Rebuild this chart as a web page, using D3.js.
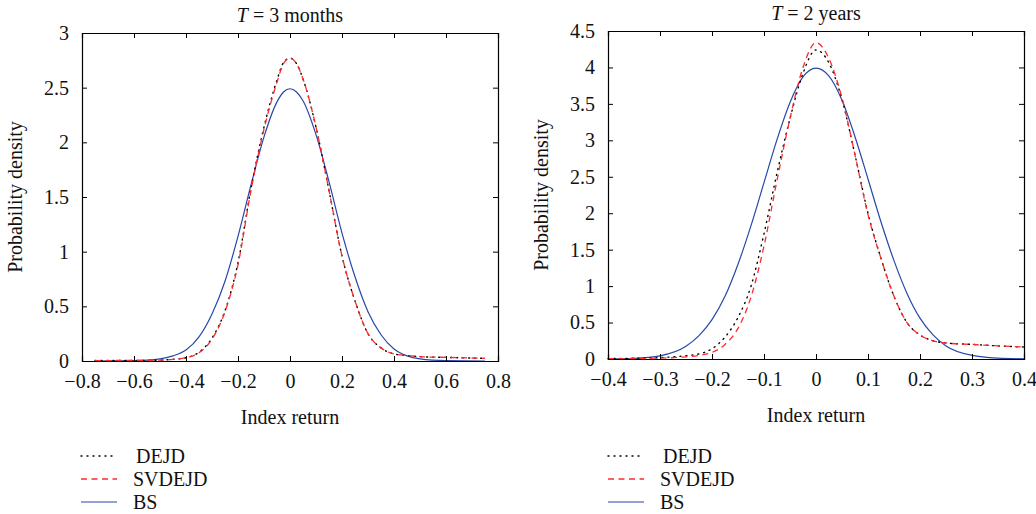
<!DOCTYPE html>
<html>
<head>
<meta charset="utf-8">
<script src="https://cdn.jsdelivr.net/npm/d3@7"></script>
<style>
  body { margin: 0; background: #fff; }
  svg text { font-family: "Liberation Serif", "DejaVu Serif", serif; fill: #111; }
</style>
</head>
<body>
<div id="chart"></div>
<script>
// ---- data ----
// left panel: T = 3 months
let xShort = [-0.75, -0.6, -0.5, -0.45, -0.4, -0.35, -0.3, -0.25, -0.2, -0.15, -0.1, -0.05, -0.025, 0,
              0.025, 0.05, 0.1, 0.15, 0.2, 0.25, 0.3, 0.35, 0.4, 0.45, 0.5, 0.6, 0.75]
let dejdShort = [0.004, 0.005, 0.008, 0.015, 0.03, 0.08, 0.21, 0.46, 0.9, 1.58, 2.14, 2.57, 2.73, 2.77,
                 2.72, 2.58, 2.14, 1.56, 0.96, 0.55, 0.25, 0.12, 0.065, 0.05, 0.04, 0.033, 0.025]
let svdejdShort = [0.004, 0.005, 0.008, 0.015, 0.03, 0.075, 0.2, 0.45, 0.88, 1.56, 2.12, 2.55, 2.72, 2.77,
                   2.72, 2.58, 2.14, 1.56, 0.96, 0.55, 0.25, 0.12, 0.065, 0.05, 0.04, 0.033, 0.025]
let bsShort = [0.0, 0.003, 0.019, 0.047, 0.1, 0.22, 0.43, 0.73, 1.14, 1.61, 2.05, 2.37, 2.46, 2.49,
               2.46, 2.38, 2.07, 1.64, 1.17, 0.77, 0.45, 0.24, 0.11, 0.047, 0.019, 0.003, 0.0]

// right panel: T = 2 years
let xLong = [-0.4, -0.35, -0.3, -0.25, -0.225, -0.2, -0.175, -0.15, -0.125, -0.1, -0.075, -0.05, -0.025, 0,
             0.025, 0.05, 0.075, 0.1, 0.125, 0.15, 0.175, 0.2, 0.225, 0.25, 0.3, 0.35, 0.4]
let dejdLong = [0.005, 0.01, 0.02, 0.045, 0.07, 0.14, 0.3, 0.57, 1.0, 1.72, 2.55, 3.3, 3.92, 4.24,
                4.06, 3.56, 2.8, 2.0, 1.38, 0.86, 0.5, 0.33, 0.25, 0.22, 0.2, 0.18, 0.165]
let svdejdLong = [0.004, 0.007, 0.012, 0.03, 0.05, 0.09, 0.2, 0.42, 0.85, 1.55, 2.45, 3.3, 4.0, 4.34,
                  4.12, 3.58, 2.8, 1.98, 1.38, 0.86, 0.5, 0.33, 0.25, 0.22, 0.2, 0.18, 0.165]
let bsLong = [0.001, 0.009, 0.044, 0.175, 0.32, 0.54, 0.86, 1.3, 1.83, 2.42, 3.01, 3.52, 3.87, 3.99,
              3.88, 3.55, 3.05, 2.47, 1.88, 1.35, 0.9, 0.56, 0.33, 0.18, 0.05, 0.012, 0.002]

let xTicksShort = [-0.8, -0.6, -0.4, -0.2, 0, 0.2, 0.4, 0.6, 0.8]
let xTicksLong = [-0.4, -0.3, -0.2, -0.1, 0, 0.1, 0.2, 0.3, 0.4]
let yTicksShort = [0, 0.5, 1, 1.5, 2, 2.5, 3]
let yTicksLong = [0, 0.5, 1, 1.5, 2, 2.5, 3, 3.5, 4, 4.5]

let seriesNames = ['DEJD', 'SVDEJD', 'BS']
let seriesColors = ['#000000', '#ff2a2a', '#2747a8']
let seriesDash = ['1,5', '6,4.5', null]
let seriesWidth = [1.4, 1.3, 1.2]

let width = 1036
let height = 514
let fontSize = '20px'

let svg = d3.select('#chart').append('svg')
    .attr('width', width)
    .attr('height', height)
    .style('background', '#fff')

// minus sign like the original
function fmt(v) {
    let s = String(Math.round(v * 10) / 10)
    return s.replace('-', '\u2212')
}

function draw_panel(opt) {
    let x = d3.scaleLinear().domain(opt.xDomain).range([opt.left, opt.right])
    let y = d3.scaleLinear().domain(opt.yDomain).range([opt.bottom, opt.top])
    let g = svg.append('g')

    // curves
    let line = d3.line()
        .x(d => x(d[0]))
        .y(d => y(d[1]))
        .curve(d3.curveMonotoneX)

    let order = [2, 0, 1] // BS below, red dashes on top of the dots
    order.forEach(i => {
        let pts = opt.xs.map((v, k) => [v, opt.ys[i][k]])
        g.append('path')
            .datum(pts)
            .attr('d', line)
            .attr('fill', 'none')
            .attr('stroke', seriesColors[i])
            .attr('stroke-width', seriesWidth[i])
            .attr('stroke-dasharray', seriesDash[i])
            .attr('stroke-linecap', i === 0 ? 'round' : 'butt')
    })

    // axes, ticks inward on all four sides
    let tickLen = -5
    g.append('g').attr('transform', `translate(0,${opt.bottom})`)
        .call(d3.axisBottom(x).tickValues(opt.xTicks).tickSize(tickLen).tickPadding(13).tickFormat(fmt))
    g.append('g').attr('transform', `translate(0,${opt.top})`)
        .call(d3.axisTop(x).tickValues(opt.xTicks).tickSize(tickLen).tickFormat(''))
    g.append('g').attr('transform', `translate(${opt.left},0)`)
        .call(d3.axisLeft(y).tickValues(opt.yTicks).tickSize(tickLen).tickPadding(13).tickFormat(fmt))
    g.append('g').attr('transform', `translate(${opt.right},0)`)
        .call(d3.axisRight(y).tickValues(opt.yTicks).tickSize(tickLen).tickFormat(''))

    g.selectAll('.domain').attr('stroke', '#000').attr('stroke-width', 1.2)
    g.selectAll('.tick line').attr('stroke', '#000').attr('stroke-width', 1)
    g.selectAll('.tick text')
        .style('font-family', '"Liberation Serif", serif')
        .style('font-size', fontSize)
        .attr('fill', '#111')

    // title
    let cx = (opt.left + opt.right) / 2
    let title = g.append('text')
        .attr('x', cx)
        .attr('y', opt.top - 11)
        .attr('text-anchor', 'middle')
        .style('font-size', fontSize)
    title.append('tspan').style('font-style', 'italic').text('T')
    title.append('tspan').text(' = ' + opt.title)

    g.append('text')
        .attr('x', cx)
        .attr('y', opt.bottom + 63)
        .attr('text-anchor', 'middle')
        .style('font-size', fontSize)
        .text('Index return')

    g.append('text')
        .attr('transform', `translate(${opt.left - 60},${(opt.top + opt.bottom) / 2}) rotate(-90)`)
        .attr('text-anchor', 'middle')
        .style('font-size', fontSize)
        .text('Probability density')

    // legend under the panel
    seriesNames.forEach((name, i) => {
        let ly = opt.legendY + i * 23
        g.append('line')
            .attr('x1', opt.legendX).attr('x2', opt.legendX + 36)
            .attr('y1', ly).attr('y2', ly)
            .attr('stroke', seriesColors[i])
            .attr('stroke-width', seriesWidth[i])
            .attr('stroke-dasharray', seriesDash[i])
            .attr('stroke-linecap', i === 0 ? 'round' : 'butt')
        g.append('text')
            .attr('x', opt.legendX + (i === 0 ? 55 : 52))
            .attr('y', ly + 7)
            .style('font-size', fontSize)
            .text(name)
    })
}

draw_panel({
    left: 82, right: 498, top: 33, bottom: 361,
    xDomain: [-0.8, 0.8], yDomain: [0, 3],
    xTicks: xTicksShort, yTicks: yTicksShort,
    xs: xShort, ys: [dejdShort, svdejdShort, bsShort],
    title: '3 months',
    legendX: 81, legendY: 456
})

draw_panel({
    left: 608, right: 1024, top: 31, bottom: 359,
    xDomain: [-0.4, 0.4], yDomain: [0, 4.5],
    xTicks: xTicksLong, yTicks: yTicksLong,
    xs: xLong, ys: [dejdLong, svdejdLong, bsLong],
    title: '2 years',
    legendX: 608, legendY: 456
})
</script>
</body>
</html>
